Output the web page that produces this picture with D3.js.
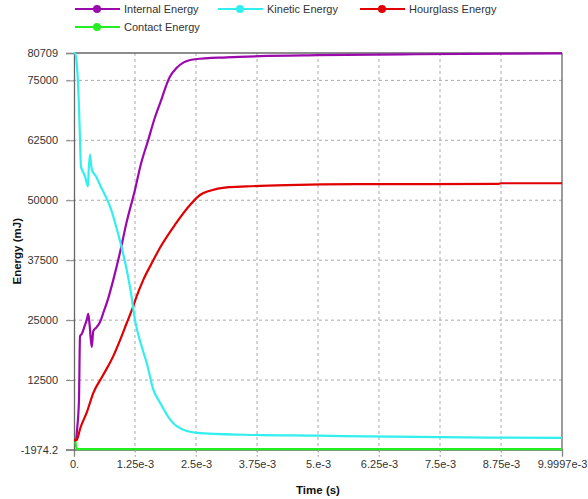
<!DOCTYPE html>
<html><head><meta charset="utf-8">
<script src="https://cdn.jsdelivr.net/npm/d3@7"></script>
<style>body{margin:0;background:#fff}svg{display:block}text{font-family:"Liberation Sans",Arial,sans-serif}</style>
</head><body><svg id="c" width="588" height="499"></svg>
<script>
const seriesNames = ["Internal Energy","Kinetic Energy","Hourglass Energy","Contact Energy"];
const seriesColors = ["#9b09ad","#33eeee","#e00000","#22ee22"];
const internalEnergy = [[0,0],[4.1e-5,0],[6.1e-5,2000],[1.02e-4,8400],[1.23e-4,21600],[1.64e-4,22200],[2.25e-4,24000],[2.6e-4,25000],[2.93e-4,26300],[3.2e-4,24000],[3.63e-4,19400],[3.95e-4,22700],[4.6e-4,23500],[5.33e-4,24600],[6.0e-4,26500],[7.0e-4,29500],[8.05e-4,33400],[9.4e-4,39000],[1.08e-3,45500],[1.25e-3,52200],[1.37e-3,57500],[1.522e-3,62600],[1.65e-3,67000],[1.762e-3,70200],[1.967e-3,75800],[2.1e-3,77600],[2.24e-3,78700],[2.48e-3,79400],[3.13e-3,79800],[3.81e-3,80050],[5e-3,80250],[7e-3,80450],[9.9997e-3,80650]];
const kineticEnergy = [[0,80709],[2.05e-5,80709],[6.1e-5,78000],[1.02e-4,69500],[1.23e-4,62600],[1.43e-4,57000],[1.8e-4,56000],[2.25e-4,55000],[2.87e-4,52900],[3.0e-4,56000],[3.28e-4,59500],[3.5e-4,57500],[3.69e-4,56300],[4.5e-4,55000],[5.33e-4,53200],[6.4e-4,51000],[7.38e-4,48700],[8.5e-4,45000],[9.43e-4,41500],[1.08e-3,35500],[1.17e-3,30500],[1.25e-3,25000],[1.387e-3,19500],[1.49e-3,16080],[1.625e-3,10520],[1.762e-3,7800],[1.967e-3,4300],[2.104e-3,2900],[2.514e-3,1500],[3.5e-3,1100],[5e-3,900],[6.5e-3,700],[8.5e-3,500],[9.9997e-3,450]];
const hourglassEnergy = [[0,0],[5.5e-5,0],[7e-5,300],[1.3e-4,2500],[2.6e-4,5700],[3.95e-4,9800],[6.0e-4,13600],[8.05e-4,17500],[9.5e-4,21000],[1.08e-3,24400],[1.2e-3,27500],[1.285e-3,30000],[1.42e-3,33400],[1.6e-3,37000],[1.762e-3,40100],[2.07e-3,44900],[2.377e-3,49000],[2.582e-3,51100],[2.787e-3,52000],[3.13e-3,52700],[3.54e-3,52900],[4.36e-3,53150],[5.79e-3,53350],[8.7e-3,53400],[8.75e-3,53550],[9.9997e-3,53550]];
const contactEnergy = [[0,0],[2e-5,0],[5.5e-5,-1900],[9.9997e-3,-1900]];
const xTickValues = [0,1.25e-3,2.5e-3,3.75e-3,5e-3,6.25e-3,7.5e-3,8.75e-3,9.9997e-3];
const xTickLabels = ["0.","1.25e-3","2.5e-3","3.75e-3","5.e-3","6.25e-3","7.5e-3","8.75e-3","9.9997e-3"];
const yTickValues = [-1974.2,12500,25000,37500,50000,62500,75000,80709];
const yTickLabels = ["-1974.2","12500","25000","37500","50000","62500","75000","80709"];

const svg = d3.select("#c");
const L=74,R=562,T=53,B=449.5;
const x = d3.scaleLinear().domain([0,9.9997e-3]).range([L,R]);
const y = d3.scaleLinear().domain([-1974.2,80709]).range([B,T]);

const g = svg.append("g");
g.selectAll(".gx").data(xTickValues.slice(1,-1)).join("line")
  .attr("x1",d=>x(d)).attr("x2",d=>x(d)).attr("y1",T).attr("y2",B+7)
  .attr("stroke","#aaa").attr("stroke-dasharray","3,3");
g.selectAll(".gy").data(yTickValues.slice(1,-1)).join("line")
  .attr("x1",L-7).attr("x2",R).attr("y1",d=>y(d)).attr("y2",d=>y(d))
  .attr("stroke","#aaa").attr("stroke-dasharray","3,3");

const xAxis = d3.axisBottom(x).tickValues(xTickValues).tickFormat((d,i)=>xTickLabels[i]).tickSize(7).tickPadding(4);
const yAxis = d3.axisLeft(y).tickValues(yTickValues).tickFormat((d,i)=>yTickLabels[i]).tickSize(8).tickPadding(8);
const ax = svg.append("g").attr("transform",`translate(0,${B})`).call(xAxis);
const ay = svg.append("g").attr("transform",`translate(${L},0)`).call(yAxis);
[ax,ay].forEach(a=>{
  a.select(".domain").attr("stroke","#666").attr("stroke-width",1.3);
  a.selectAll(".tick line").attr("stroke","#888");
  a.selectAll(".tick text").attr("font-size",11).attr("fill","#333").attr("font-family","Liberation Sans, Arial, sans-serif");
});
ax.selectAll(".tick line").filter((d,i)=>i>0&&i<xTickValues.length-1).attr("stroke-dasharray","3,3").attr("stroke","#aaa");
svg.append("line").attr("x1",L).attr("x2",R).attr("y1",T).attr("y2",T).attr("stroke","#666").attr("stroke-width",1.3);
svg.append("line").attr("x1",R).attr("x2",R).attr("y1",T).attr("y2",B).attr("stroke","#666").attr("stroke-width",1.3);

const line = d3.line().x(d=>x(d[0])).y(d=>y(d[1])).curve(d3.curveMonotoneX);
const datasets = [contactEnergy,internalEnergy,hourglassEnergy,kineticEnergy];
const dsColors = [seriesColors[3],seriesColors[0],seriesColors[2],seriesColors[1]];
svg.append("g").selectAll("path").data(datasets).join("path")
  .attr("d",line).attr("fill","none").attr("stroke",(d,i)=>dsColors[i]).attr("stroke-width",2.2).attr("stroke-linejoin","round");

svg.append("text").attr("x",(L+R)/2).attr("y",494).attr("text-anchor","middle")
  .attr("font-weight","bold").attr("font-size",11.5).attr("fill","#111").text("Time (s)");
svg.append("text").attr("transform",`translate(21,${(T+B)/2}) rotate(-90)`).attr("text-anchor","middle")
  .attr("font-weight","bold").attr("font-size",11.5).attr("fill","#111").text("Energy (mJ)");

const legPos = [[75,9],[218,9],[360,9],[75,27]];
const leg = svg.append("g").selectAll("g").data(seriesNames).join("g")
  .attr("transform",(d,i)=>`translate(${legPos[i][0]},${legPos[i][1]})`);
leg.append("line").attr("x1",0).attr("x2",45).attr("stroke",(d,i)=>seriesColors[i]).attr("stroke-width",2.2);
leg.append("circle").attr("cx",22).attr("r",4).attr("fill",(d,i)=>seriesColors[i]);
leg.append("text").attr("x",49).attr("y",4).attr("font-size",11).attr("fill","#333").text(d=>d);
</script></body></html>
